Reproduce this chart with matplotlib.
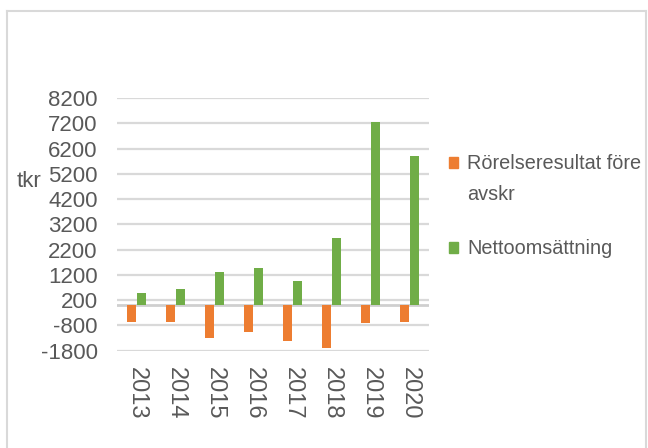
import matplotlib
matplotlib.use("Agg")
import matplotlib.pyplot as plt
import numpy as np
from matplotlib.lines import Line2D
from matplotlib.patches import Rectangle

plt.rcParams['font.family'] = ['Liberation Sans', 'DejaVu Sans']

years = ["2013", "2014", "2015", "2016", "2017", "2018", "2019", "2020"]
rorelseresultat = [-670, -670, -1280, -1055, -1400, -1690, -710, -660]
nettoomsattning = [470, 640, 1330, 1460, 950, 2650, 7270, 5900]
series_names = ["Rörelseresultat före\navskr", "Nettoomsättning"]
yticks = list(range(-1800, 8201, 1000))

orange = "#ED7D31"
green = "#70AD47"
txt = "#595959"
grid = "#d9d9d9"

W, H = 648, 448
fig = plt.figure(figsize=(W / 100, H / 100), dpi=100)

ax = fig.add_axes([117 / W, (H - 350.7) / H, 312 / W, 252.7 / H])
x = np.arange(len(years))
w = 0.23
b1 = ax.bar(x - 0.14, rorelseresultat, w, color=orange, zorder=3)
b2 = ax.bar(x + 0.14, nettoomsattning, w, color=green, zorder=3)

ax.set_xlim(-0.5, len(years) - 0.5)
ax.set_ylim(-1800, 8200)
ax.set_yticks(yticks)
ax.set_yticklabels([str(v) for v in yticks], fontsize=16, color=txt)
ax.set_xticks(x)
ax.set_xticklabels(years, rotation=270, fontsize=17, color=txt)
ax.tick_params(axis='both', length=0)
ax.tick_params(axis='x', pad=12)
ax.tick_params(axis='y', pad=14)
for s in ax.spines.values():
    s.set_visible(False)
ax.yaxis.grid(True, color=grid, linewidth=1.6, zorder=0)
ax.set_axisbelow(True)
ax.axhline(0, color="#cfcfcf", linewidth=2.0, zorder=2)

fig.text(17 / W, 1 - 181 / H, "tkr", fontsize=16, color=txt, ha='left', va='center')

# legend (manual, to match the reference layout)
legend_items = [(series_names[0], orange, 163), (series_names[1], green, 248)]
for label, col, yc in legend_items:
    fig.add_artist(Rectangle((449 / W, 1 - (yc + 5.5) / H), 9 / W, 11 / H,
                             color=col, transform=fig.transFigure))
    fig.text(467 / W, 1 - (yc - 9.5) / H, label, fontsize=14.3, color=txt,
             ha='left', va='top', linespacing=1.85)

# outer chart frame
lc = "#d9d9d9"
fig.add_artist(Line2D([6.5 / W, 6.5 / W], [0, 1 - 11 / H], color=lc, lw=1.5, transform=fig.transFigure))
fig.add_artist(Line2D([6.5 / W, 645.5 / W], [1 - 11 / H, 1 - 11 / H], color=lc, lw=1.5, transform=fig.transFigure))
fig.add_artist(Line2D([645.5 / W, 645.5 / W], [0, 1 - 11 / H], color=lc, lw=1.5, transform=fig.transFigure))

fig.savefig("out.png", dpi=100, facecolor="white")
